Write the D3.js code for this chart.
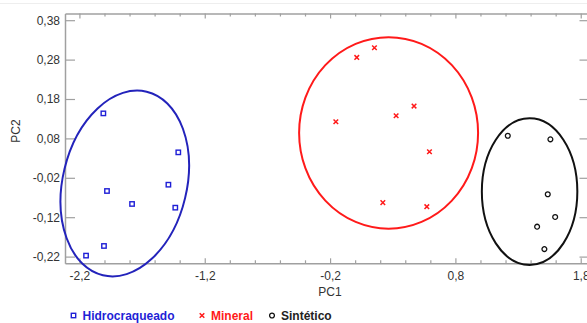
<!DOCTYPE html>
<html>
<head>
<meta charset="utf-8">
<script src="https://cdn.jsdelivr.net/npm/d3@7"></script>
<style>
  body { margin: 0; background: #fff; }
  svg text { font-family: "Liberation Sans", Arial, sans-serif; }
</style>
</head>
<body>
<div id="chart"></div>
<script>
// PCA scores
var groups = ["Hidrocraqueado", "Mineral", "Sintético"];
var groupColors = ["#1f1fd6", "#ff1a1a", "#111111"];
var ellipseColors = ["#2323bb", "#ff1a1a", "#111111"];

var hidroPC1 = [-2.009, -1.411, -1.980, -1.780, -1.490, -1.435, -2.004, -2.147];
var hidroPC2 = [0.1435, 0.0446, -0.0535, -0.0864, -0.0375, -0.0958, -0.193, -0.2175];

var mineralPC1 = [0.013, 0.154, -0.154, 0.327, 0.470, 0.593, 0.221, 0.572];
var mineralPC2 = [0.2855, 0.310, 0.1222, 0.1374, 0.162, 0.0462, -0.083, -0.0933];

var sintPC1 = [1.218, 1.558, 1.537, 1.596, 1.452, 1.510];
var sintPC2 = [0.0867, 0.0776, -0.0618, -0.1194, -0.144, -0.201];

// confidence ellipses (centre, half axes in data units, tilt in degrees)
var ellipseCx = [-1.838, 0.267, 1.392];
var ellipseCy = [-0.0345, 0.094, -0.055];
var ellipseRx = [0.495, 0.714, 0.381];
var ellipseRy = [0.2395, 0.243, 0.186];
var ellipseAngle = [13.4, 0, 0];

var xTicks = d3.range(-22, 19, 2).map(function (d) { return d / 10; });
var xLabels = [-2.2, -1.2, -0.2, 0.8, 1.8];
var yTicks = [-0.22, -0.12, -0.02, 0.08, 0.18, 0.28, 0.38];

var width = 587, height = 323;
var plotLeft = 65, plotRight = 589.5, plotTop = 13.5, plotBottom = 263.3;

var svg = d3.select("#chart").append("svg")
  .attr("width", width)
  .attr("height", height);

var x = d3.scaleLinear().domain([-2.315, 1.87]).range([plotLeft, plotRight]);
var y = d3.scaleLinear().domain([-0.237, 0.397]).range([plotBottom, plotTop]);

function fmt(v, n) {
  return v.toFixed(n).replace(".", ",");
}
function isLabel(v) {
  return xLabels.some(function (l) { return Math.abs(l - v) < 1e-6; });
}

// faint line at the very top
svg.append("line")
  .attr("x1", 0).attr("x2", width)
  .attr("y1", 3.5).attr("y2", 3.5)
  .attr("stroke", "#eeeeee");

var axisColor = "#a0a0a0";
var textColor = "#333333";

// bottom axis
var gx = svg.append("g")
  .attr("transform", "translate(0," + plotBottom + ")")
  .call(d3.axisBottom(x).tickValues(xTicks).tickSizeInner(-3).tickSizeOuter(0).tickPadding(8)
    .tickFormat(function (d) { return isLabel(d) ? fmt(d, 1) : ""; }));
gx.selectAll(".tick line").attr("y2", function (d) { return isLabel(d) ? -5 : -3; });

// top axis
var gxTop = svg.append("g")
  .attr("transform", "translate(0," + plotTop + ")")
  .call(d3.axisTop(x).tickValues(xTicks).tickSizeInner(-3).tickSizeOuter(0).tickFormat(""));
gxTop.selectAll(".tick line").attr("y2", function (d) { return isLabel(d) ? 5 : 3; });

// left axis
var gy = svg.append("g")
  .attr("transform", "translate(" + plotLeft + ",0)")
  .call(d3.axisLeft(y).tickValues(yTicks).tickSizeInner(-10).tickSizeOuter(0).tickPadding(5)
    .tickFormat(function (d) { return fmt(d, 2); }));

// right axis
svg.append("g")
  .attr("transform", "translate(" + plotRight + ",0)")
  .call(d3.axisRight(y).tickValues(yTicks).tickSizeInner(-10).tickSizeOuter(0).tickFormat(""));

svg.selectAll(".domain").attr("stroke", axisColor).attr("stroke-width", 1.5);
svg.selectAll(".tick line").attr("stroke", axisColor).attr("stroke-width", 1.2);
svg.selectAll(".tick text")
  .attr("fill", textColor)
  .style("font-size", "12px");

// axis titles
svg.append("text")
  .attr("x", 330).attr("y", 296)
  .attr("text-anchor", "middle")
  .attr("fill", textColor)
  .style("font-size", "12px")
  .text("PC1");

svg.append("text")
  .attr("transform", "translate(20,131) rotate(-90)")
  .attr("text-anchor", "middle")
  .attr("fill", textColor)
  .style("font-size", "12px")
  .text("PC2");

// ellipses
var ellData = groups.map(function (g, i) {
  return { cx: ellipseCx[i], cy: ellipseCy[i], rx: ellipseRx[i], ry: ellipseRy[i], a: ellipseAngle[i], c: ellipseColors[i] };
});
svg.selectAll(".ell")
  .data(ellData)
  .enter()
  .append("ellipse")
  .attr("class", "ell")
  .attr("cx", function (d) { return x(d.cx); })
  .attr("cy", function (d) { return y(d.cy); })
  .attr("rx", function (d) { return x(d.cx + d.rx) - x(d.cx); })
  .attr("ry", function (d) { return y(d.cy) - y(d.cy + d.ry); })
  .attr("transform", function (d) { return "rotate(" + d.a + "," + x(d.cx) + "," + y(d.cy) + ")"; })
  .attr("fill", "none")
  .attr("stroke", function (d) { return d.c; })
  .attr("stroke-width", 2);

// markers
function square(sel, color) {
  sel.append("rect")
    .attr("x", -2.2).attr("y", -2.2)
    .attr("width", 4.4).attr("height", 4.4)
    .attr("fill", "none").attr("stroke", color).attr("stroke-width", 1.4);
}
function cross(sel, color) {
  sel.append("path")
    .attr("d", "M-2.3,-2.3L2.3,2.3M-2.3,2.3L2.3,-2.3")
    .attr("stroke", color).attr("stroke-width", 1.5);
}
function circle(sel, color) {
  sel.append("circle")
    .attr("r", 2.4)
    .attr("fill", "none").attr("stroke", color).attr("stroke-width", 1.3);
}
var shapes = [square, cross, circle];

function drawPoints(xs, ys, k) {
  var pts = xs.map(function (v, i) { return [v, ys[i]]; });
  svg.append("g").selectAll("g")
    .data(pts)
    .enter()
    .append("g")
    .attr("transform", function (d) { return "translate(" + x(d[0]) + "," + y(d[1]) + ")"; })
    .each(function () { shapes[k](d3.select(this), groupColors[k]); });
}
drawPoints(hidroPC1, hidroPC2, 0);
drawPoints(mineralPC1, mineralPC2, 1);
drawPoints(sintPC1, sintPC2, 2);

// legend
var legendX = [73.5, 202, 272];
var legend = svg.append("g");
groups.forEach(function (g, i) {
  var item = legend.append("g").attr("transform", "translate(" + legendX[i] + ",315.5)");
  shapes[i](item, groupColors[i]);
  item.append("text")
    .attr("x", 9).attr("y", 4.5)
    .attr("fill", i === 2 ? "#222222" : groupColors[i])
    .style("font-size", "12px")
    .style("font-weight", "bold")
    .text(g);
});
</script>
</body>
</html>
